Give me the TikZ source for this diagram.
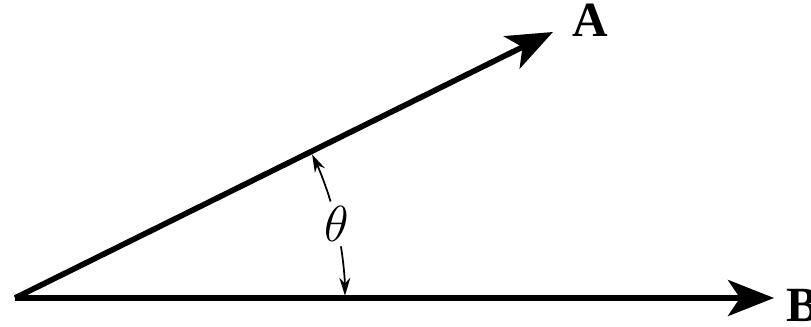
\documentclass[tikz,border=0pt]{standalone}
\usepackage{fontspec}
\setmainfont{Liberation Serif}
\usetikzlibrary{arrows.meta}
\begin{document}
\begin{tikzpicture}[
 vec/.style={line width=1.6pt,-{Stealth[length=4.6mm,width=3.6mm,inset=1.2mm]}},
 angarrow/.style={line width=0.5pt,-{Stealth[length=1.8mm,width=1.1mm]}},
 lbl/.style={font=\bfseries\fontsize{14}{16}\selectfont,inner sep=0pt}]
 \useasboundingbox (0,0) rectangle (8.11,3.27);
 \coordinate (O) at (0.15,0.29);
 \coordinate (Atip) at (5.53,2.95);
 \coordinate (Btip) at (7.74,0.29);
 \draw[vec] (O)--(Atip);
 \draw[vec] (O)--(Btip);
 \node[lbl,anchor=south west] (A) at (5.72,2.90){A};
 \node[lbl,anchor=south west] (B) at (7.86,0.05){B};
 \node[font=\Large] (theta) at ([shift={(13:3.3)}]O){$\theta$};
 \draw[angarrow] ([shift={(17:3.3)}]O) arc[start angle=17,end angle=25.8,radius=3.3];
 \draw[angarrow] ([shift={(9:3.3)}]O) arc[start angle=9,end angle=0.4,radius=3.3];
\end{tikzpicture}
\end{document}
